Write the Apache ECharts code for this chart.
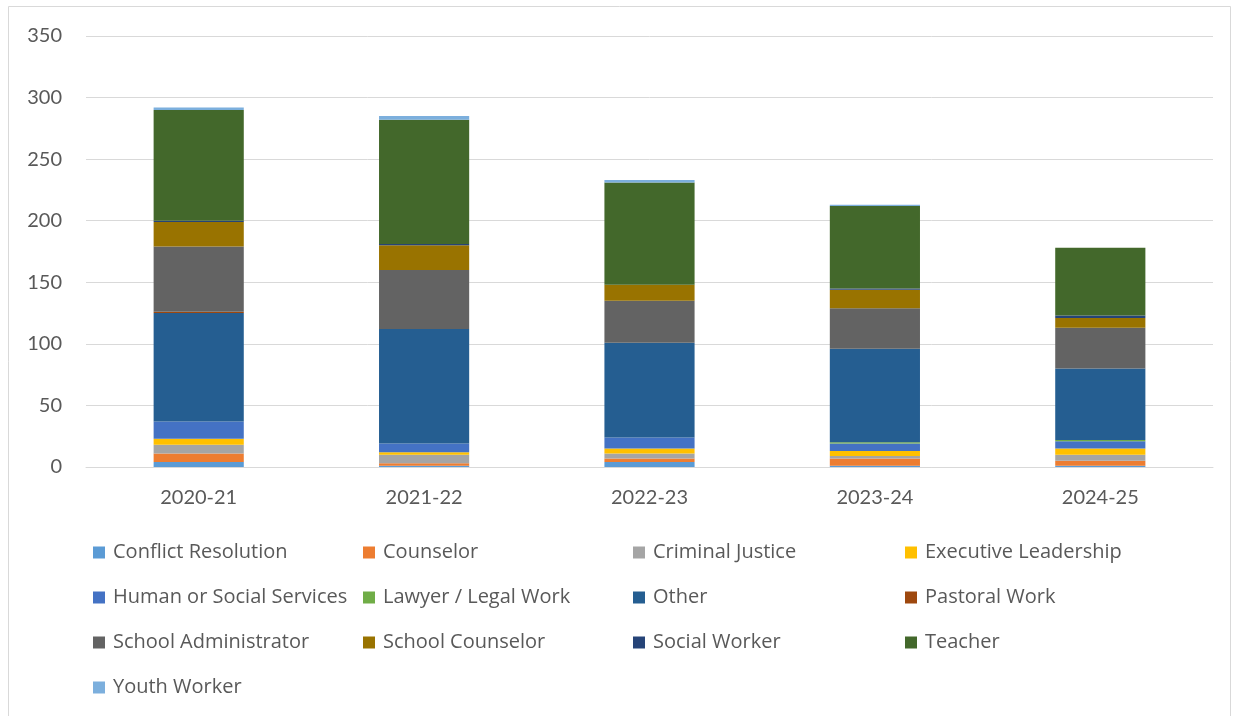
<!DOCTYPE html>
<html>
<head>
<meta charset="utf-8">
<script src="https://cdn.jsdelivr.net/npm/echarts@6/dist/echarts.min.js"></script>
<style>
  html, body { margin: 0; padding: 0; background: #fff; }
  #chart { width: 1238px; height: 716px; }
</style>
</head>
<body>
<div id="chart"></div>
<script>
const years = ['2020-21', '2021-22', '2022-23', '2023-24', '2024-25'];

const conflictResolution = [4, 1, 4, 1, 1];
const counselor = [7, 2, 3, 6, 4];
const criminalJustice = [7, 7, 4, 2, 5];
const executiveLeadership = [5, 2, 4, 4, 5];
const humanSocialServices = [14, 7, 9, 6, 6];
const lawyerLegal = [0, 0, 0, 1, 1];
const other = [88, 93, 77, 76, 58];
const pastoralWork = [1, 0, 0, 0, 0];
const schoolAdministrator = [53, 48, 34, 33, 33];
const schoolCounselor = [20, 20, 13, 15, 8];
const socialWorker = [1, 1, 0, 1, 2];
const teacher = [90, 101, 83, 67, 55];
const youthWorker = [2, 3, 2, 1, 0];

const yTicks = [0, 50, 100, 150, 200, 250, 300, 350];

const seriesDefs = [
    ['Conflict Resolution', conflictResolution, '#5B9BD5'],
    ['Counselor', counselor, '#ED7D31'],
    ['Criminal Justice', criminalJustice, '#A5A5A5'],
    ['Executive Leadership', executiveLeadership, '#FFC000'],
    ['Human or Social Services', humanSocialServices, '#4472C4'],
    ['Lawyer / Legal Work', lawyerLegal, '#70AD47'],
    ['Other', other, '#255E91'],
    ['Pastoral Work', pastoralWork, '#9E480E'],
    ['School Administrator', schoolAdministrator, '#636363'],
    ['School Counselor', schoolCounselor, '#997300'],
    ['Social Worker', socialWorker, '#264478'],
    ['Teacher', teacher, '#43682B'],
    ['Youth Worker', youthWorker, '#7CAFDD'],
];

const textColor = '#595959';
const axisFont = 'Lato, sans-serif';
const legendFont = '"Open Sans", Lato, sans-serif';

// four legend columns, filled row by row like the original
const columnX = [88, 358, 628, 900];
const legends = columnX.map((x, col) => ({
    orient: 'vertical',
    left: x,
    top: 534,
    itemWidth: 12,
    itemHeight: 12,
    itemGap: 18,
    icon: 'rect',
    selectedMode: false,
    data: seriesDefs.filter((d, i) => i % 4 === col).map(d => d[0]),
    textStyle: { color: textColor, fontSize: 20, fontFamily: legendFont, lineHeight: 27, padding: [0, 0, 0, 3] },
}));

const chart = echarts.init(document.getElementById('chart'));
chart.setOption({
    animation: false,
    backgroundColor: '#fff',
    graphic: [{
        type: 'rect',
        shape: { x: 8.5, y: 6.5, width: 1222, height: 730 },
        style: { fill: 'none', stroke: '#D9D9D9', lineWidth: 1 },
        silent: true,
    }],
    grid: { left: 86, right: 25, top: 36, bottom: 249 },
    legend: legends,
    xAxis: {
        type: 'category',
        data: years,
        axisLine: { lineStyle: { color: '#D9D9D9', width: 1 } },
        axisTick: { show: false },
        axisLabel: { color: textColor, fontSize: 20, fontFamily: axisFont, margin: 21 },
    },
    yAxis: {
        type: 'value',
        min: yTicks[0],
        max: yTicks[yTicks.length - 1],
        interval: 50,
        axisLine: { show: false },
        axisTick: { show: false },
        splitLine: { lineStyle: { color: '#D9D9D9', width: 1 } },
        axisLabel: { color: textColor, fontSize: 20, fontFamily: axisFont, margin: 24 },
    },
    series: seriesDefs.map(([name, values, color]) => ({
        name: name,
        type: 'bar',
        stack: 'total',
        barWidth: '40%',
        data: values,
        itemStyle: { color: color },
    })),
});
</script>
</body>
</html>
